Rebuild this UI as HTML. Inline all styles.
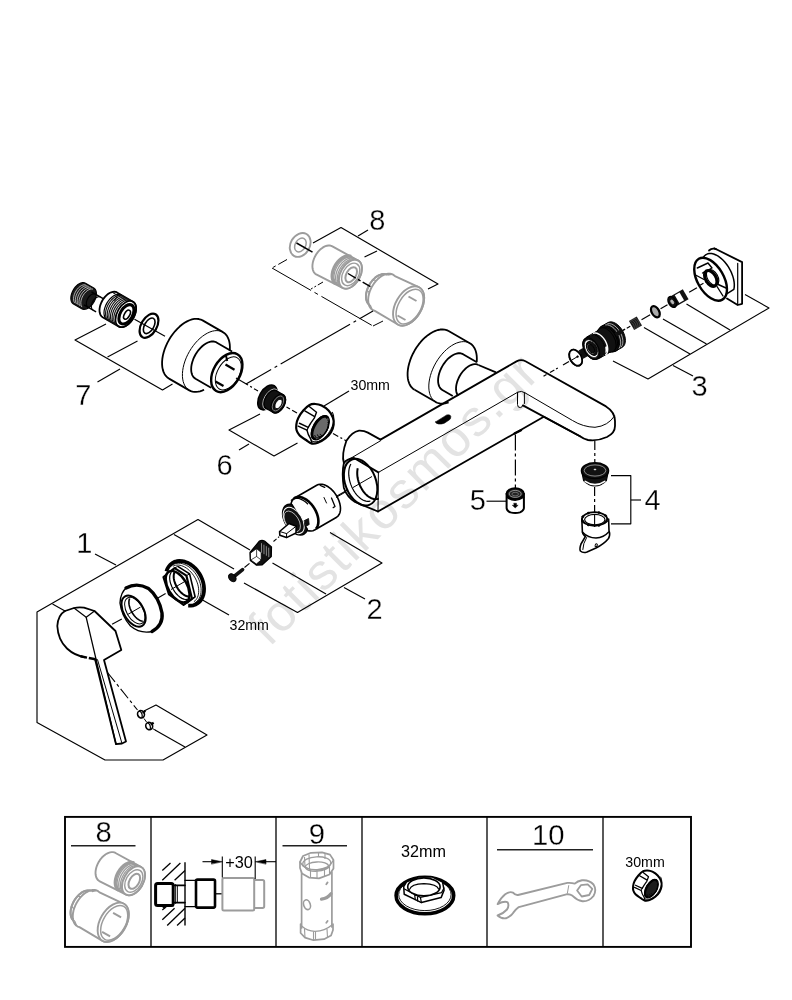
<!DOCTYPE html>
<html><head><meta charset="utf-8"><title>Exploded view</title>
<style>
html,body{margin:0;padding:0;background:#fff;}
body{width:792px;height:1000px;overflow:hidden;font-family:"Liberation Sans",sans-serif;}
svg{display:block;}
svg text{font-family:"Liberation Sans",sans-serif;}
</style></head><body>
<svg width="792" height="1000" viewBox="0 0 792 1000" style="filter:grayscale(1)">
<rect width="792" height="1000" fill="#fff"/>
<g id="wm">
<text x="0" y="0" font-size="51" fill="#e3e3e3" text-anchor="start" transform="translate(269.4,647.6) rotate(-45)" letter-spacing="2">fotistikosmos.gr</text>
</g>
<g id="table">
<rect x="65" y="816.9" width="626" height="130" fill="none" stroke="#000" stroke-width="1.9"/>
<line x1="151" y1="817" x2="151" y2="947" stroke="#000" stroke-width="1.3" stroke-linecap="butt"/>
<line x1="276" y1="817" x2="276" y2="947" stroke="#000" stroke-width="1.3" stroke-linecap="butt"/>
<line x1="362" y1="817" x2="362" y2="947" stroke="#000" stroke-width="1.3" stroke-linecap="butt"/>
<line x1="487" y1="817" x2="487" y2="947" stroke="#000" stroke-width="1.3" stroke-linecap="butt"/>
<line x1="603" y1="817" x2="603" y2="947" stroke="#000" stroke-width="1.3" stroke-linecap="butt"/>
<text x="103.7" y="841.7" font-size="29.3" fill="#000" text-anchor="middle" stroke="#fff" stroke-width="0.3">8</text>
<line x1="71" y1="845.8" x2="135.5" y2="845.8" stroke="#222" stroke-width="1.4" stroke-linecap="butt"/>
<text x="317" y="844" font-size="29.3" fill="#000" text-anchor="middle" stroke="#fff" stroke-width="0.3">9</text>
<line x1="282.5" y1="845.8" x2="347" y2="845.8" stroke="#222" stroke-width="1.4" stroke-linecap="butt"/>
<text x="548.3" y="844.7" font-size="29.3" fill="#000" text-anchor="middle" stroke="#fff" stroke-width="0.3">10</text>
<line x1="497" y1="849.7" x2="593" y2="849.7" stroke="#222" stroke-width="1.4" stroke-linecap="butt"/>
<text x="423.5" y="856.6" font-size="16.2" fill="#000" text-anchor="middle" >32mm</text>
<text x="645" y="867" font-size="14.2" fill="#000" text-anchor="middle" >30mm</text>
<text x="239" y="867.8" font-size="16.3" fill="#000" text-anchor="middle" >+30</text>
</g>
<g id="labels">
<text x="75.2" y="405" font-size="29" fill="#000" text-anchor="start" stroke="#fff" stroke-width="0.3">7</text>
<text x="216.6" y="475.2" font-size="29" fill="#000" text-anchor="start" stroke="#fff" stroke-width="0.3">6</text>
<text x="369.3" y="230.2" font-size="29" fill="#000" text-anchor="start" stroke="#fff" stroke-width="0.3">8</text>
<text x="691.5" y="395.5" font-size="29" fill="#000" text-anchor="start" stroke="#fff" stroke-width="0.3">3</text>
<text x="644.5" y="510.2" font-size="29" fill="#000" text-anchor="start" stroke="#fff" stroke-width="0.3">4</text>
<text x="469.8" y="510.4" font-size="29" fill="#000" text-anchor="start" stroke="#fff" stroke-width="0.3">5</text>
<text x="366.6" y="619.2" font-size="29" fill="#000" text-anchor="start" stroke="#fff" stroke-width="0.3">2</text>
<text x="76.3" y="553.2" font-size="29" fill="#000" text-anchor="start" stroke="#fff" stroke-width="0.3">1</text>
<text x="350.5" y="390" font-size="14.2" fill="#000" text-anchor="start" >30mm</text>
<text x="229.5" y="629.9" font-size="14.2" fill="#000" text-anchor="start" >32mm</text>
</g>
<g id="brackets">
<polyline points="106,324 75,340 162.5,390 172.5,384" fill="none" stroke="#000" stroke-width="1.15" stroke-linejoin="round"/>
<line x1="137.5" y1="341" x2="107.5" y2="357" stroke="#000" stroke-width="1.15" stroke-linecap="butt"/>
<line x1="120" y1="369" x2="97.5" y2="382" stroke="#000" stroke-width="1.15" stroke-linecap="butt"/>
<polyline points="260,414 229,430 274,456 297.5,443" fill="none" stroke="#000" stroke-width="1.15" stroke-linejoin="round"/>
<line x1="249" y1="444" x2="239" y2="450" stroke="#000" stroke-width="1.15" stroke-linecap="butt"/>
<polyline points="313,243 341,227.5 438,284 428,289" fill="none" stroke="#000" stroke-width="1.15" stroke-linejoin="round"/>
<line x1="377" y1="251" x2="364.5" y2="257" stroke="#000" stroke-width="1.15" stroke-linecap="butt"/>
<line x1="358" y1="236" x2="368" y2="230" stroke="#000" stroke-width="1.15" stroke-linecap="butt"/>
<polyline points="613,361 648,379 769,308 745,294.5" fill="none" stroke="#000" stroke-width="1.15" stroke-linejoin="round"/>
<line x1="644" y1="327.5" x2="690" y2="354" stroke="#000" stroke-width="1.15" stroke-linecap="butt"/>
<line x1="663" y1="319" x2="706.5" y2="344" stroke="#000" stroke-width="1.15" stroke-linecap="butt"/>
<line x1="686.5" y1="304" x2="730" y2="330" stroke="#000" stroke-width="1.15" stroke-linecap="butt"/>
<line x1="673" y1="365.5" x2="693" y2="376" stroke="#000" stroke-width="1.15" stroke-linecap="butt"/>
<polyline points="611,475.6 630.8,475.6 630.8,523.8 611,523.8" fill="none" stroke="#000" stroke-width="1.15" stroke-linejoin="round"/>
<line x1="630.8" y1="500" x2="641" y2="500" stroke="#000" stroke-width="1.15" stroke-linecap="butt"/>
<line x1="486.5" y1="501.2" x2="506" y2="501.2" stroke="#000" stroke-width="1.15" stroke-linecap="butt"/>
<polyline points="330,532.5 382,563 297.5,612.5 244,583" fill="none" stroke="#000" stroke-width="1.15" stroke-linejoin="round"/>
<line x1="272.5" y1="563" x2="326" y2="594" stroke="#000" stroke-width="1.15" stroke-linecap="butt"/>
<line x1="344" y1="587.5" x2="365" y2="599" stroke="#000" stroke-width="1.15" stroke-linecap="butt"/>
<polyline points="250,550 198,519.5 37,612 37,722.5 105,760 163,760 207,735 156,705 144,711" fill="none" stroke="#000" stroke-width="1.15" stroke-linejoin="round"/>
<line x1="174" y1="534.5" x2="234" y2="569" stroke="#000" stroke-width="1.15" stroke-linecap="butt"/>
<line x1="52.5" y1="604" x2="65" y2="611" stroke="#000" stroke-width="1.15" stroke-linecap="butt"/>
<line x1="155" y1="730" x2="185" y2="747" stroke="#000" stroke-width="1.15" stroke-linecap="butt"/>
<line x1="95" y1="554" x2="116" y2="565" stroke="#000" stroke-width="1.15" stroke-linecap="butt"/>
<line x1="202.5" y1="600" x2="229" y2="615" stroke="#000" stroke-width="1.15" stroke-linecap="butt"/>
<line x1="349" y1="391" x2="324" y2="406" stroke="#000" stroke-width="1.15" stroke-linecap="butt"/>
</g>
<g id="body">
<polyline points="476.67,362.25 476.83,360.07 476.84,357.96 476.72,355.94 476.47,354.01 476.07,352.19 475.55,350.49 474.89,348.91 474.11,347.46 473.21,346.17 472.19,345.02 471.06,344.03 469.82,343.21 448.6,330.96 446.73,330.09 444.7,329.56 442.52,329.37 440.22,329.51 437.83,330.0 435.37,330.81 432.87,331.95 430.35,333.41 427.85,335.16 425.39,337.18 422.99,339.46 420.7,341.97 418.52,344.68 416.48,347.57 414.61,350.59 412.93,353.72 411.45,356.93 410.19,360.17 409.16,363.42 408.39,366.63 407.86,369.77 407.6,372.81 407.6,375.72 407.86,378.46 408.38,381.0 409.16,383.31 410.18,385.37 411.44,387.16 412.92,388.66 414.6,389.84" fill="none" stroke="#000" stroke-width="1.8" stroke-linejoin="round"/>
<polyline points="414.6,389.84 435.82,402.09 437.17,402.76 438.6,403.24 440.12,403.55 441.72,403.68 443.37,403.63 445.09,403.4 446.85,402.98 448.64,402.4" fill="none" stroke="#000" stroke-width="1.8" stroke-linejoin="round"/>
<polyline points="435.82,402.09 434.14,400.91 432.66,399.41 431.4,397.62 430.38,395.56 429.6,393.25 429.08,390.71 428.82,387.97 428.82,385.06 429.08,382.02 429.61,378.88 430.38,375.67 431.41,372.42 432.67,369.18 434.15,365.97 435.83,362.84 437.7,359.82 439.74,356.93 441.92,354.22 444.21,351.71 446.61,349.43 449.07,347.41 451.57,345.66 454.09,344.2 456.59,343.06 459.05,342.25 461.44,341.76 463.74,341.62 465.92,341.81 467.95,342.34 469.82,343.21" fill="none" stroke="#000" stroke-width="1.0" stroke-linejoin="round"/>
<polyline points="476.91,362.17 463.05,354.17 461.61,353.55 460.02,353.24 458.3,353.25 456.49,353.59 454.61,354.24 452.7,355.2 450.79,356.45 448.92,357.96 447.1,359.72 445.39,361.69 443.8,363.84 442.36,366.13 441.09,368.52 440.03,370.97 439.18,373.44 438.57,375.89 438.19,378.28 438.07,380.55 438.19,382.69 438.56,384.64 439.18,386.38 440.03,387.87 441.09,389.09 442.35,390.03 452.74,396.03" fill="none" stroke="#000" stroke-width="1.8" stroke-linejoin="round"/>
<polyline points="478.46,364.99 477.26,364.46 475.94,364.17 474.51,364.14 473.01,364.36 471.45,364.83 469.85,365.54 468.25,366.48 466.66,367.64 465.1,369.01 463.61,370.55 462.2,372.25 460.89,374.08 459.7,376.02 458.66,378.03 457.78,380.09 457.06,382.16 456.52,384.22 456.17,386.23 456.02,388.16 456.06,389.99 456.3,391.69 456.73,393.23 457.34,394.58 458.13,395.74" fill="none" stroke="#000" stroke-width="1.8" stroke-linejoin="round"/>
<polyline points="478.46,364.99 496,372.4" fill="none" stroke="#000" stroke-width="1.8" stroke-linejoin="round"/>
<path d="M380.5,439.6 L516.5,361.4 Q521,358.8 525.5,361.2 L606,406.4 Q615,412 615,421 L615,426 Q615,433 607,437 Q597,441.5 588,440 Q583.5,439 580,436.3 L543.8,416.7 L378,511.5" fill="none" stroke="#000" stroke-width="1.8" stroke-linejoin="round" stroke-linecap="round" />
<path d="M580,436.3 L522.9,405.4" fill="none" stroke="#000" stroke-width="1.8" stroke-linejoin="round" stroke-linecap="round" />
<path d="M524.8,392.7 L572.5,420.5 Q583,427 595,427.3 Q608,426 614.5,416" fill="none" stroke="#000" stroke-width="1.0" stroke-linejoin="round" stroke-linecap="round" />
<path d="M517.9,392.1 Q521.5,390.2 524.8,392.7 M517.5,392.7 L517.5,404.5 Q517.6,408 520.5,407.6 Q522.6,407 522.9,405.4 M524.4,393.4 L524.4,403.5" fill="none" stroke="#000" stroke-width="1.0" stroke-linejoin="round" stroke-linecap="round" />
<path d="M378.4,472.4 L517.9,392.1" fill="none" stroke="#000" stroke-width="1.0" stroke-linejoin="round" stroke-linecap="round" />
<path d="M378.4,472.4 L378,511.5" fill="none" stroke="#000" stroke-width="1.0" stroke-linejoin="round" stroke-linecap="round" />
<path d="M378.4,472.4 L354,458 Q346.5,459 343.9,463 Q341.5,473 343.9,488 Q347,497 355,502 L378,511.5" fill="none" stroke="#000" stroke-width="1.8" stroke-linejoin="round" stroke-linecap="round" />
<path d="M343.9,463 Q341.3,455 346.4,440.8 Q352,432 359,430.7 Q364,430.5 367.9,432.6 L380.5,439.6" fill="none" stroke="#000" stroke-width="1.8" stroke-linejoin="round" stroke-linecap="round" />
<path d="M349,459.3 L380.5,440.8" fill="none" stroke="#000" stroke-width="1.0" stroke-linejoin="round" stroke-linecap="round" />
<ellipse cx="360.6" cy="482.2" rx="15.3" ry="24.3" fill="none" stroke="#000" stroke-width="2.0" transform="rotate(-21 360.6 482.2)"/>
<polyline points="370.39,501.0 368.99,501.3 367.51,501.35 365.98,501.14 364.41,500.67 362.83,499.95 361.24,499.0 359.68,497.81 358.16,496.41 356.7,494.81 355.31,493.04 354.02,491.11 352.85,489.05 351.8,486.89 350.88,484.64 350.12,482.35 349.52,480.03 349.08,477.71 348.81,475.44 348.72,473.22 348.81,471.09 349.07,469.08 349.51,467.22 350.11,465.51 350.87,463.99" fill="none" stroke="#000" stroke-width="1.2" stroke-linejoin="round"/>
<polyline points="378.75,498.47 377.55,498.9 376.28,499.12 374.96,499.14 373.6,498.96 372.21,498.57 370.81,497.99 369.41,497.22 368.02,496.26 366.67,495.13 365.36,493.84 364.11,492.4 362.93,490.82 361.84,489.13 360.84,487.34 359.94,485.47 359.16,483.53 358.5,481.56 357.98,479.56 357.58,477.56 357.33,475.58 357.22,473.65 357.25,471.77 357.42,469.97 357.73,468.27" fill="none" stroke="#000" stroke-width="2.0" stroke-linejoin="round"/>
<path d="M435.6,421.9 L446.8,414.9 Q450.6,414.2 450.8,416.4 Q451,418.6 449.5,419.8 L444.3,423.2 Q441,424.4 438.6,424 Q435.4,423.4 435.6,421.9 Z" fill="#000" stroke="#000" stroke-width="0.6" stroke-linejoin="round" stroke-linecap="round" />
<path d="M514.5,433.5 L521,430.2" fill="none" stroke="#000" stroke-width="2.4" stroke-linejoin="round" stroke-linecap="round" />
</g>
<g id="p7">
<polyline points="229.72,350.97 229.88,348.82 229.89,346.74 229.77,344.74 229.52,342.83 229.13,341.03 228.61,339.35 227.96,337.79 227.19,336.36 226.3,335.08 225.29,333.94 224.17,332.97 222.95,332.15 202.6,320.4 200.75,319.55 198.74,319.02 196.59,318.83 194.32,318.97 191.95,319.45 189.52,320.26 187.05,321.39 184.56,322.83 182.09,324.55 179.66,326.56 177.29,328.81 175.02,331.29 172.87,333.97 170.86,336.82 169.01,339.81 167.35,342.9 165.88,346.07 164.64,349.27 163.63,352.48 162.86,355.65 162.34,358.76 162.08,361.77 162.08,364.64 162.34,367.34 162.86,369.85 163.62,372.14 164.63,374.18 165.88,375.95 167.34,377.43 169.0,378.6 189.35,390.35 190.88,391.08 192.52,391.59 194.27,391.87 196.11,391.91 198.02,391.72 200.0,391.3 202.02,390.65 204.07,389.77" fill="none" stroke="#000" stroke-width="1.8" stroke-linejoin="round"/>
<polyline points="189.35,390.35 187.69,389.18 186.23,387.7 184.98,385.93 183.97,383.89 183.21,381.6 182.69,379.09 182.43,376.39 182.43,373.52 182.69,370.51 183.21,367.4 183.98,364.23 184.99,361.02 186.23,357.82 187.7,354.65 189.36,351.56 191.21,348.57 193.22,345.72 195.37,343.04 197.64,340.56 200.01,338.31 202.44,336.3 204.91,334.58 207.4,333.14 209.87,332.01 212.3,331.2 214.67,330.72 216.94,330.58 219.09,330.77 221.1,331.3 222.95,332.15" fill="none" stroke="#000" stroke-width="1.0" stroke-linejoin="round"/>
<polyline points="232.09,351.41 216.5,342.41 215.04,341.78 213.43,341.47 211.68,341.48 209.85,341.82 207.94,342.48 206.0,343.46 204.07,344.72 202.16,346.26 200.32,348.04 198.58,350.04 196.97,352.22 195.51,354.54 194.23,356.97 193.15,359.45 192.29,361.96 191.66,364.45 191.28,366.86 191.16,369.18 191.28,371.34 191.66,373.32 192.28,375.08 193.14,376.6 194.22,377.84 195.5,378.79 211.09,387.79" fill="none" stroke="#000" stroke-width="1.8" stroke-linejoin="round"/>
<ellipse cx="226.78" cy="372.6" rx="13.3" ry="21.2" fill="none" stroke="#000" stroke-width="2.4" transform="rotate(30 226.78 372.6)"/>
<ellipse cx="228.28" cy="373.40000000000003" rx="10.8" ry="18" fill="none" stroke="#000" stroke-width="1.0" transform="rotate(30 228.28 373.40000000000003)"/>
<line x1="225.5" y1="364.5" x2="234.5" y2="369.8" stroke="#000" stroke-width="2.2" stroke-linecap="butt"/>
<line x1="215.5" y1="381.5" x2="223.5" y2="386" stroke="#000" stroke-width="2.2" stroke-linecap="butt"/>
<line x1="226" y1="355.6" x2="227.2" y2="361" stroke="#000" stroke-width="2.0" stroke-linecap="butt"/>
<ellipse cx="149" cy="325.7" rx="7.8" ry="13.2" fill="none" stroke="#000" stroke-width="2.2" transform="rotate(30 149 325.7)"/>
<ellipse cx="149.2" cy="325.8" rx="4.6" ry="8.6" fill="none" stroke="#000" stroke-width="1.6" transform="rotate(30 149.2 325.8)"/>
<polygon points="85.5,283.21 84.45,282.77 83.28,282.6 82.02,282.71 80.69,283.08 79.33,283.71 77.98,284.58 76.67,285.67 75.42,286.96 74.28,288.42 73.26,290.0 72.4,291.67 71.72,293.39 71.22,295.11 70.93,296.8 70.85,298.4 70.98,299.89 71.32,301.23 71.87,302.37 72.6,303.3 73.5,303.99 81.73,308.74 81.73,308.74 82.78,309.18 83.95,309.35 85.21,309.24 86.54,308.87 87.89,308.24 89.25,307.37 90.56,306.28 91.8,304.99 92.95,303.53 93.96,301.95 94.82,300.28 95.51,298.56 96.01,296.84 96.3,295.15 96.38,293.55 96.25,292.06 95.9,290.72 95.36,289.58 94.63,288.65 93.73,287.96" fill="#1a1a1a" stroke="#000" stroke-width="1.2" stroke-linejoin="round"/>
<polyline points="85.66,284.88 84.34,284.76 82.91,285.01 81.41,285.61 79.92,286.56 78.47,287.81 77.13,289.31 75.95,291.01 74.97,292.84 74.22,294.74 73.74,296.64 73.54,298.47 73.63,300.15 74.0,301.63 74.65,302.85" fill="none" stroke="#ddd" stroke-width="0.75" stroke-linejoin="round"/>
<polyline points="87.48,285.93 86.16,285.81 84.73,286.06 83.23,286.66 81.74,287.61 80.29,288.86 78.95,290.36 77.77,292.06 76.79,293.89 76.04,295.79 75.56,297.69 75.36,299.52 75.45,301.2 75.82,302.68 76.47,303.9" fill="none" stroke="#ddd" stroke-width="0.75" stroke-linejoin="round"/>
<polyline points="89.3,286.98 87.98,286.86 86.55,287.11 85.05,287.71 83.56,288.66 82.11,289.91 80.77,291.41 79.59,293.11 78.61,294.94 77.86,296.84 77.38,298.74 77.18,300.57 77.27,302.25 77.64,303.73 78.29,304.95" fill="none" stroke="#ddd" stroke-width="0.75" stroke-linejoin="round"/>
<polyline points="91.11,288.03 89.79,287.91 88.36,288.16 86.86,288.76 85.37,289.71 83.92,290.96 82.58,292.46 81.4,294.16 80.42,295.99 79.67,297.89 79.19,299.79 78.99,301.62 79.08,303.3 79.45,304.78 80.1,306.0" fill="none" stroke="#ddd" stroke-width="0.75" stroke-linejoin="round"/>
<polyline points="92.93,289.08 91.61,288.96 90.18,289.21 88.68,289.81 87.19,290.76 85.74,292.01 84.4,293.51 83.22,295.21 82.24,297.04 81.49,298.94 81.01,300.84 80.81,302.67 80.9,304.35 81.27,305.83 81.92,307.05" fill="none" stroke="#ddd" stroke-width="0.75" stroke-linejoin="round"/>
<polyline points="91.48,291.86 105.34,299.86" fill="none" stroke="#000" stroke-width="1.4" stroke-linejoin="round"/>
<polyline points="83.98,304.85 96.1,311.85" fill="none" stroke="#000" stroke-width="1.4" stroke-linejoin="round"/>
<polyline points="95.48,294.15 94.52,293.82 93.42,293.82 92.23,294.17 91.02,294.84 89.85,295.8 88.77,297.01 87.83,298.4 87.1,299.9 86.59,301.44 86.35,302.94 86.37,304.33 86.66,305.53 87.21,306.48 87.98,307.15" fill="none" stroke="#000" stroke-width="1.2" stroke-linejoin="round"/>
<polyline points="100.48,297.05 99.52,296.72 98.42,296.72 97.23,297.07 96.02,297.74 94.85,298.7 93.77,299.91 92.83,301.3 92.1,302.8 91.59,304.34 91.35,305.84 91.37,307.23 91.66,308.43 92.21,309.38 92.98,310.05" fill="none" stroke="#000" stroke-width="1.2" stroke-linejoin="round"/>
<polygon points="116.95,292.42 115.7,291.9 114.3,291.7 112.8,291.82 111.22,292.26 109.6,293.01 107.99,294.05 106.43,295.36 104.94,296.89 103.58,298.63 102.37,300.51 101.34,302.5 100.52,304.55 99.93,306.6 99.59,308.61 99.49,310.52 99.65,312.3 100.06,313.89 100.7,315.25 101.58,316.36 102.65,317.18 118.67,326.43 119.92,326.95 121.32,327.15 122.82,327.03 124.4,326.59 126.02,325.84 127.63,324.8 129.19,323.49 130.68,321.96 132.04,320.22 133.25,318.34 134.28,316.35 135.1,314.3 135.69,312.25 136.03,310.24 136.13,308.33 135.97,306.55 135.56,304.96 134.92,303.6 134.04,302.49 132.97,301.67" fill="#fff" stroke="#000" stroke-width="1.8" stroke-linejoin="round"/>
<polyline points="121.45,295.02 119.86,294.42 118.06,294.32 116.12,294.72 114.1,295.61 112.09,296.95 110.17,298.7 108.41,300.78 106.87,303.11 105.62,305.61 104.7,308.18 104.15,310.71 103.99,313.12 104.23,315.31 104.85,317.2 105.84,318.71 107.15,319.78" fill="none" stroke="#000" stroke-width="1.2" stroke-linejoin="round"/>
<polyline points="122.34,295.59 120.71,295.22 118.92,295.31 117.02,295.86 115.08,296.85 113.16,298.25 111.34,300.01 109.68,302.06 108.24,304.34 107.08,306.75 106.22,309.22 105.7,311.65 105.55,313.97 105.76,316.09 106.33,317.93 107.24,319.42 108.46,320.53" fill="none" stroke="#111" stroke-width="1.15" stroke-linejoin="round"/>
<polyline points="123.99,296.54 122.36,296.17 120.57,296.26 118.67,296.81 116.73,297.8 114.81,299.2 112.99,300.96 111.33,303.01 109.89,305.29 108.73,307.7 107.87,310.17 107.35,312.6 107.2,314.92 107.41,317.04 107.98,318.88 108.89,320.37 110.11,321.48" fill="none" stroke="#111" stroke-width="1.15" stroke-linejoin="round"/>
<polyline points="125.63,297.49 124.0,297.12 122.21,297.21 120.31,297.76 118.37,298.75 116.45,300.15 114.63,301.91 112.97,303.96 111.53,306.24 110.37,308.65 109.51,311.12 108.99,313.55 108.84,315.87 109.05,317.99 109.62,319.83 110.53,321.32 111.75,322.43" fill="none" stroke="#111" stroke-width="1.15" stroke-linejoin="round"/>
<polyline points="127.28,298.44 125.65,298.07 123.86,298.16 121.96,298.71 120.02,299.7 118.1,301.1 116.28,302.86 114.62,304.91 113.18,307.19 112.02,309.6 111.16,312.07 110.64,314.5 110.49,316.82 110.7,318.94 111.27,320.78 112.18,322.27 113.4,323.38" fill="none" stroke="#111" stroke-width="1.15" stroke-linejoin="round"/>
<polyline points="128.92,299.39 127.29,299.02 125.5,299.11 123.6,299.66 121.66,300.65 119.74,302.05 117.92,303.81 116.26,305.86 114.82,308.14 113.66,310.55 112.8,313.02 112.28,315.45 112.13,317.77 112.34,319.89 112.91,321.73 113.82,323.22 115.04,324.33" fill="none" stroke="#111" stroke-width="1.15" stroke-linejoin="round"/>
<polyline points="130.57,300.34 128.94,299.97 127.15,300.06 125.25,300.61 123.31,301.6 121.39,303.0 119.57,304.76 117.91,306.81 116.47,309.09 115.31,311.5 114.45,313.97 113.93,316.4 113.78,318.72 113.99,320.84 114.56,322.68 115.47,324.17 116.69,325.28" fill="none" stroke="#111" stroke-width="1.15" stroke-linejoin="round"/>
<polyline points="112.5,292.5 117.5,295.3 114.5,300.8" fill="none" stroke="#000" stroke-width="1.0" stroke-linejoin="round"/>
<ellipse cx="125.82" cy="314.05" rx="8.58" ry="14.3" fill="none" stroke="#000" stroke-width="1.6" transform="rotate(30 125.82 314.05)"/>
<ellipse cx="126.41999999999999" cy="314.35" rx="6.2" ry="10.6" fill="none" stroke="#000" stroke-width="3.0" transform="rotate(30 126.41999999999999 314.35)"/>
<ellipse cx="127.02" cy="314.65000000000003" rx="2.6" ry="5.0" fill="none" stroke="#000" stroke-width="1.6" transform="rotate(30 127.02 314.65000000000003)"/>
</g>
<g id="p6">
<ellipse cx="267.4" cy="397.4" rx="8.0" ry="13.6" fill="#111" stroke="#000" stroke-width="1.5" transform="rotate(30 267.4 397.4)"/>
<ellipse cx="270.86" cy="399.4" rx="6.6" ry="11.5" fill="#111" stroke="#ccc" stroke-width="0.8" transform="rotate(30 270.86 399.4)"/>
<polygon points="276.5,390.87 275.37,390.44 274.08,390.37 272.7,390.66 271.26,391.29 269.83,392.25 268.46,393.49 267.2,394.98 266.1,396.64 265.21,398.42 264.55,400.25 264.16,402.06 264.05,403.78 264.21,405.34 264.66,406.69 265.36,407.77 266.3,408.53 273.13,412.48 274.26,412.91 275.55,412.98 276.93,412.69 278.37,412.06 279.8,411.1 281.17,409.86 282.43,408.37 283.53,406.71 284.42,404.93 285.08,403.1 285.47,401.29 285.58,399.57 285.42,398.01 284.97,396.66 284.27,395.58 283.33,394.82" fill="#111" stroke="#000" stroke-width="1.2" stroke-linejoin="round"/>
<ellipse cx="278.23" cy="403.65" rx="6.119999999999999" ry="10.2" fill="#111" stroke="#000" stroke-width="1.4" transform="rotate(30 278.23 403.65)"/>
<ellipse cx="277.93" cy="403.45" rx="4.6" ry="8.2" fill="#111" stroke="#999" stroke-width="0.7" transform="rotate(30 277.93 403.45)"/>
<ellipse cx="278.53000000000003" cy="403.95" rx="2.9" ry="5.2" fill="#fff" stroke="#000" stroke-width="0.8" transform="rotate(30 278.53000000000003 403.95)"/>
<path d="M296.33,424.56 C296.59,422.55 297.00,420.48 298.16,418.14 C299.32,415.80 301.37,412.75 303.27,410.54 C305.17,408.34 307.55,406.00 309.56,404.91 C311.57,403.82 313.31,403.88 315.32,403.99 C317.33,404.10 319.41,404.47 321.61,405.56 C323.81,406.65 326.67,408.53 328.55,410.54 C330.43,412.55 332.03,415.27 332.88,417.61 C333.73,419.95 333.97,422.14 333.66,424.56 C333.35,426.98 332.42,429.84 331.04,432.15 C329.67,434.46 327.62,436.67 325.41,438.44 C323.21,440.21 320.04,441.91 317.81,442.76 C315.58,443.61 313.95,443.96 312.05,443.55 C310.15,443.14 308.51,441.68 306.41,440.28 C304.31,438.88 301.11,436.85 299.47,435.17 C297.83,433.49 297.11,431.96 296.59,430.19 C296.07,428.42 296.07,426.57 296.33,424.56 Z" fill="#fff" stroke="#000" stroke-width="2.2" stroke-linejoin="round" stroke-linecap="round" />
<path d="M309.56,406.74 L316.5,412.24 L314.27,418.14 Q310.48,423.12 308.25,427.44 L299.47,423.25" fill="none" stroke="#000" stroke-width="1.4306903927824497" stroke-linejoin="round" stroke-linecap="round" />
<path d="M304.84,410.93 L314.27,416.3" fill="none" stroke="#000" stroke-width="1.4306903927824497" stroke-linejoin="round" stroke-linecap="round" />
<path d="M298.16,426.13 L306.94,430.19 Q307.86,434.9 310.74,438.97 L312.05,443.55" fill="none" stroke="#000" stroke-width="1.4306903927824497" stroke-linejoin="round" stroke-linecap="round" />
<path d="M308.25,427.44 L306.94,430.19" fill="none" stroke="#000" stroke-width="1.1445523142259597" stroke-linejoin="round" stroke-linecap="round" />
<polyline points="332.04,412.05 332.9,413.59 333.48,415.4 333.77,417.45 333.77,419.7 333.47,422.08 332.88,424.54 332.02,427.02 330.91,429.48 329.56,431.84 328.02,434.06 326.32,436.08 324.5,437.85 322.59,439.34 320.65,440.52 318.73,441.34 316.85,441.8 315.08,441.88 313.44,441.58 311.99,440.91 310.74,439.88" fill="none" stroke="#000" stroke-width="1.0300970828033638" stroke-linejoin="round"/>
<ellipse cx="320.3" cy="427.7" rx="7.074000000000001" ry="13.362" fill="#6a6a6a" stroke="#000" stroke-width="1.2" transform="rotate(30 320.3 427.7)"/>
<polyline points="315.84,438.79 314.61,438.78 313.58,438.35 312.79,437.53 312.26,436.35 312.02,434.84 312.08,433.06 312.43,431.08 313.05,428.98 313.94,426.82 315.05,424.69 316.34,422.66 317.77,420.82 319.28,419.22 320.82,417.93 322.33,416.99 323.75,416.45 325.04,416.31 326.15,416.58 327.03,417.26 327.65,418.32" fill="none" stroke="#000" stroke-width="2.62" stroke-linejoin="round"/>
<polyline points="327.69,419.65 328.45,421.22 328.63,423.39 328.23,425.97 327.26,428.76 325.83,431.51 324.04,434.0 322.04,436.01 320.01,437.38 318.11,437.99 316.51,437.79 315.34,436.8 314.69,435.1" fill="none" stroke="#000" stroke-width="0.9825" stroke-linejoin="round"/>
<polyline points="327.79,421.99 328.36,423.23 328.48,424.96 328.13,427.02 327.34,429.26 326.18,431.47 324.75,433.48 323.16,435.11 321.55,436.23 320.06,436.74 318.81,436.6 317.9,435.83 317.42,434.48" fill="none" stroke="#000" stroke-width="0.9825" stroke-linejoin="round"/>
<polyline points="327.89,424.33 328.28,425.24 328.32,426.53 328.03,428.08 327.41,429.76 326.53,431.43 325.46,432.96 324.28,434.21 323.09,435.08 322.01,435.49 321.11,435.41 320.47,434.85 320.15,433.86" fill="none" stroke="#000" stroke-width="0.9825" stroke-linejoin="round"/>
</g>
<g id="p8">
<ellipse cx="300.2" cy="244.9" rx="9.6" ry="12.6" fill="none" stroke="#9c9c9c" stroke-width="1.9" transform="rotate(30 300.2 244.9)"/>
<ellipse cx="300.4" cy="245.0" rx="5.2" ry="7.4" fill="none" stroke="#9c9c9c" stroke-width="1.5" transform="rotate(30 300.4 245.0)"/>
<g transform="translate(0,0)">
<polygon points="332.4,246.37 331.2,245.83 329.87,245.55 328.45,245.52 326.97,245.74 325.43,246.21 323.88,246.93 322.33,247.88 320.82,249.04 319.36,250.39 317.99,251.92 316.73,253.59 315.6,255.38 314.62,257.25 313.8,259.18 313.16,261.13 312.72,263.07 312.47,264.96 312.42,266.77 312.58,268.47 312.94,270.04 313.49,271.44 314.22,272.65 315.13,273.65 316.2,274.43 342.55,287.8 343.72,288.32 345.0,288.59 346.37,288.62 347.82,288.41 349.3,287.95 350.81,287.26 352.31,286.34 353.78,285.21 355.18,283.9 356.51,282.42 357.73,280.8 358.83,279.07 359.78,277.25 360.57,275.38 361.19,273.49 361.63,271.62 361.87,269.78 361.91,268.03 361.76,266.38 361.41,264.86 360.88,263.5 360.16,262.33 359.28,261.35 358.25,260.6" fill="#fff" stroke="#9c9c9c" stroke-width="1.9" stroke-linejoin="round"/>
<polyline points="357.95,260.44 356.53,259.93 354.97,259.76 353.3,259.92 351.56,260.43 349.79,261.25 348.04,262.39 346.34,263.8 344.74,265.45 343.27,267.31 341.97,269.33 340.87,271.47 339.99,273.67 339.36,275.89 338.99,278.06 338.88,280.14 339.05,282.09 339.49,283.85 340.18,285.38 341.11,286.64 342.26,287.62" fill="none" stroke="#9c9c9c" stroke-width="1.9" stroke-linejoin="round"/>
<polyline points="356.3,259.49 354.88,258.98 353.32,258.81 351.65,258.97 349.91,259.48 348.14,260.3 346.39,261.44 344.69,262.85 343.09,264.5 341.62,266.36 340.32,268.38 339.22,270.52 338.34,272.72 337.71,274.94 337.34,277.11 337.23,279.19 337.4,281.14 337.84,282.9 338.53,284.43 339.46,285.69 340.61,286.67" fill="none" stroke="#9c9c9c" stroke-width="1.3" stroke-linejoin="round"/>
<polyline points="354.66,258.54 353.24,258.03 351.68,257.86 350.01,258.02 348.27,258.53 346.5,259.35 344.75,260.49 343.05,261.9 341.45,263.55 339.98,265.41 338.68,267.43 337.58,269.57 336.7,271.77 336.07,273.99 335.7,276.16 335.59,278.24 335.76,280.19 336.2,281.95 336.89,283.48 337.82,284.74 338.97,285.72" fill="none" stroke="#9c9c9c" stroke-width="1.3" stroke-linejoin="round"/>
<polyline points="353.01,257.59 351.59,257.08 350.03,256.91 348.36,257.07 346.62,257.58 344.85,258.4 343.1,259.54 341.4,260.95 339.8,262.6 338.33,264.46 337.03,266.48 335.93,268.62 335.05,270.82 334.42,273.04 334.05,275.21 333.94,277.29 334.11,279.24 334.55,281.0 335.24,282.53 336.17,283.79 337.32,284.77" fill="none" stroke="#9c9c9c" stroke-width="1.3" stroke-linejoin="round"/>
<polyline points="351.2,256.54 349.78,256.03 348.22,255.86 346.55,256.02 344.81,256.53 343.04,257.35 341.29,258.49 339.59,259.9 337.99,261.55 336.52,263.41 335.22,265.43 334.12,267.57 333.24,269.77 332.61,271.99 332.24,274.16 332.13,276.24 332.3,278.19 332.74,279.95 333.43,281.48 334.36,282.74 335.51,283.72" fill="none" stroke="#9c9c9c" stroke-width="3.2" stroke-linejoin="round"/>
<ellipse cx="350.4" cy="274.2" rx="9.734" ry="15.7" fill="#fff" stroke="#9c9c9c" stroke-width="1.9" transform="rotate(30 350.4 274.2)"/>
<ellipse cx="350.7" cy="274.4" rx="7.8" ry="12.2" fill="none" stroke="#9c9c9c" stroke-width="1.4" transform="rotate(30 350.7 274.4)"/>
<ellipse cx="351.2" cy="274.7" rx="4.8" ry="8.2" fill="none" stroke="#9c9c9c" stroke-width="2.0" transform="rotate(30 351.2 274.7)"/>
</g>
<g transform="translate(0,0)">
<polyline points="387.3,274.93 386.03,274.37 384.62,274.07 383.12,274.05 381.54,274.3 379.91,274.81 378.25,275.59 376.6,276.62 374.99,277.87 373.44,279.33 371.97,280.97 370.62,282.77 369.41,284.69 368.35,286.71 367.47,288.77 366.78,290.86 366.29,292.94 366.01,294.96 365.95,296.9 366.1,298.72 366.47,300.4 367.04,301.89 367.82,303.18 368.77,304.25 369.9,305.07" fill="none" stroke="#9c9c9c" stroke-width="1.9" stroke-linejoin="round"/>
<polygon points="394.92,276.08 393.51,274.92 391.88,274.13 390.06,273.72 388.1,273.71 386.02,274.1 383.89,274.87 381.73,276.01 379.6,277.49 377.54,279.29 375.6,281.37 373.82,283.68 372.22,286.18 370.86,288.8 369.75,291.51 368.92,294.23 368.39,296.91 368.17,299.5 368.26,301.93 368.66,304.17 369.37,306.16 370.36,307.85 371.62,309.23 373.12,310.24 374.83,310.88 397.9,324.53 399.47,325.23 401.19,325.59 403.04,325.62 404.99,325.31 406.99,324.68 409.03,323.72 411.06,322.46 413.04,320.92 414.95,319.12 416.75,317.1 418.41,314.89 419.91,312.53 421.21,310.05 422.29,307.51 423.14,304.94 423.74,302.39 424.08,299.9 424.16,297.51 423.97,295.27 423.52,293.21 422.81,291.38 421.86,289.79 420.68,288.48 419.3,287.47" fill="#fff" stroke="#9c9c9c" stroke-width="1.9" stroke-linejoin="round"/>
<polyline points="387.3,274.93 386.03,274.37 384.62,274.07 383.12,274.05 381.54,274.3 379.91,274.81 378.25,275.59 376.6,276.62 374.99,277.87 373.44,279.33 371.97,280.97 370.62,282.77 369.41,284.69 368.35,286.71 367.47,288.77 366.78,290.86 366.29,292.94 366.01,294.96 365.95,296.9 366.1,298.72 366.47,300.4 367.04,301.89 367.82,303.18 368.77,304.25 369.9,305.07" fill="none" stroke="#9c9c9c" stroke-width="1.9" stroke-linejoin="round"/>
<polyline points="387.3,274.93 391.88,274.13" fill="none" stroke="#9c9c9c" stroke-width="1.9" stroke-linejoin="round"/>
<polyline points="369.9,305.07 371.62,309.23" fill="none" stroke="#9c9c9c" stroke-width="1.9" stroke-linejoin="round"/>
<polyline points="379.36,275.05 383.89,274.87" fill="none" stroke="#9c9c9c" stroke-width="1.2" stroke-linejoin="round"/>
<polyline points="372.94,279.86 376.36,280.51" fill="none" stroke="#9c9c9c" stroke-width="1.2" stroke-linejoin="round"/>
<polyline points="366.99,290.17 369.38,292.6" fill="none" stroke="#9c9c9c" stroke-width="1.2" stroke-linejoin="round"/>
<polyline points="366.2,299.3 368.46,303.3" fill="none" stroke="#9c9c9c" stroke-width="1.2" stroke-linejoin="round"/>
<ellipse cx="408.6" cy="306.0" rx="13.053999999999998" ry="21.4" fill="#fff" stroke="#9c9c9c" stroke-width="1.9" transform="rotate(30 408.6 306.0)"/>
<ellipse cx="409.6" cy="306.6" rx="11.2" ry="19.0" fill="none" stroke="#9c9c9c" stroke-width="1.5" transform="rotate(30 409.6 306.6)"/>
<line x1="408.5" y1="296.5" x2="416.5" y2="301" stroke="#9c9c9c" stroke-width="2.0" stroke-linecap="butt"/>
<line x1="397.5" y1="315.5" x2="405.5" y2="320" stroke="#9c9c9c" stroke-width="2.0" stroke-linecap="butt"/>
</g>
<line x1="287" y1="259.5" x2="272" y2="268" stroke="#000" stroke-width="1.0" stroke-linecap="butt" stroke-dasharray="10 3 3 3"/>
<line x1="272" y1="268" x2="373" y2="326" stroke="#000" stroke-width="1.0" stroke-linecap="butt" stroke-dasharray="45 4 4 4 58 4 4 4"/>
<line x1="373" y1="326" x2="383" y2="321" stroke="#000" stroke-width="1.0" stroke-linecap="butt"/>
<line x1="323" y1="282" x2="311" y2="289" stroke="#000" stroke-width="1.0" stroke-linecap="butt" stroke-dasharray="6 2 2 2"/>
<line x1="296.5" y1="243" x2="312.5" y2="252.2" stroke="#000" stroke-width="1.5" stroke-linecap="butt"/>
<line x1="348" y1="273.5" x2="372" y2="287.5" stroke="#000" stroke-width="1.4" stroke-linecap="butt" stroke-dasharray="9 2.5 3 2.5"/>
</g>
<g id="p3">
<line x1="563" y1="365" x2="569" y2="361.5" stroke="#000" stroke-width="1.2" stroke-linecap="butt"/>
<line x1="550" y1="372.5" x2="559" y2="367.3" stroke="#000" stroke-width="1.2" stroke-linecap="butt" stroke-dasharray="5 2 2 2"/>
<line x1="543.5" y1="376.2" x2="546.5" y2="374.5" stroke="#000" stroke-width="1.2" stroke-linecap="butt"/>
<line x1="580.9" y1="354.7" x2="592.15" y2="348.2" stroke="#111" stroke-width="9.5" stroke-linecap="butt"/>
<ellipse cx="575.7" cy="357.7" rx="5.6" ry="8.6" fill="#fff" stroke="#000" stroke-width="1.8" transform="rotate(-30 575.7 357.7)"/>
<line x1="571.5" y1="360.2" x2="577.5" y2="356.6" stroke="#000" stroke-width="1.0" stroke-linecap="butt"/>
<ellipse cx="577.6" cy="356.6" rx="0.9" ry="0.9" fill="#000" stroke="#000" stroke-width="0.6"/>
<polygon points="607.95,322.57 609.54,321.97 611.34,321.87 613.28,322.27 615.3,323.16 617.31,324.5 619.23,326.25 620.99,328.33 622.53,330.66 623.78,333.16 624.7,335.73 625.25,338.26 625.41,340.67 625.17,342.86 624.55,344.75 623.56,346.26 622.25,347.33 615.76,351.08 614.17,351.68 612.37,351.78 610.43,351.38 608.41,350.49 606.4,349.15 604.48,347.4 602.72,345.32 601.18,342.99 599.93,340.49 599.01,337.92 598.46,335.39 598.3,332.98 598.54,330.79 599.16,328.9 600.15,327.39 601.46,326.32" fill="#111" stroke="#000" stroke-width="1.0" stroke-linejoin="round"/>
<ellipse cx="608.61" cy="338.7" rx="8.58" ry="14.3" fill="#111" stroke="#000" stroke-width="1.0" transform="rotate(-30 608.61 338.7)"/>
<polyline points="605.22,324.96 607.27,324.84 609.52,325.39 611.83,326.6 614.08,328.39 616.16,330.67 617.94,333.31 619.34,336.18 620.27,339.11 620.7,341.96 620.59,344.56 619.95,346.78 618.81,348.5" fill="none" stroke="#e8e8e8" stroke-width="0.7" stroke-linejoin="round"/>
<polyline points="607.39,323.71 609.44,323.59 611.69,324.14 614.0,325.35 616.25,327.14 618.33,329.42 620.11,332.06 621.51,334.93 622.44,337.86 622.87,340.71 622.76,343.31 622.12,345.53 620.98,347.25" fill="none" stroke="#e8e8e8" stroke-width="0.7" stroke-linejoin="round"/>
<polygon points="602.41,327.96 603.79,327.44 605.35,327.36 607.03,327.7 608.78,328.48 610.52,329.64 612.19,331.15 613.72,332.96 615.05,334.98 616.14,337.15 616.94,339.37 617.41,341.57 617.55,343.66 617.34,345.56 616.8,347.2 615.95,348.51 614.81,349.44 599.22,358.44 597.84,358.96 596.28,359.04 594.6,358.7 592.85,357.92 591.11,356.76 589.44,355.25 587.91,353.44 586.58,351.42 585.49,349.25 584.69,347.03 584.22,344.83 584.08,342.74 584.29,340.84 584.83,339.2 585.68,337.89 586.82,336.96" fill="#111" stroke="#000" stroke-width="1.0" stroke-linejoin="round"/>
<ellipse cx="606.44" cy="339.95" rx="8.04" ry="13.4" fill="#111" stroke="#000" stroke-width="1.0" transform="rotate(-30 606.44 339.95)"/>
<polyline points="592.94,333.25 594.85,332.9 596.98,333.26 599.22,334.29 601.42,335.94 603.46,338.11 605.2,340.67 606.54,343.46 607.4,346.3 607.73,349.04 607.51,351.49 606.75,353.52 605.5,354.99" fill="none" stroke="#fff" stroke-width="1.4" stroke-linejoin="round"/>
<polyline points="590.19,335.53 592.0,335.2 594.03,335.54 596.16,336.52 598.26,338.1 600.2,340.17 601.86,342.6 603.13,345.25 603.96,347.96 604.27,350.57 604.06,352.9 603.33,354.83 602.14,356.24" fill="none" stroke="#fff" stroke-width="1.0" stroke-linejoin="round"/>
<polygon points="604.31,347.7 607.31,346.2 607.31,351.2 604.81,352.7" fill="#fff" stroke="#fff" stroke-width="0.5" stroke-linejoin="round"/>
<polygon points="590.58,335.48 591.89,334.99 593.38,334.9 594.98,335.24 596.64,335.97 598.3,337.08 599.89,338.52 601.34,340.23 602.61,342.16 603.64,344.22 604.4,346.34 604.86,348.43 604.99,350.42 604.79,352.23 604.28,353.79 603.46,355.03 602.38,355.92 597.19,358.92 595.88,359.41 594.39,359.5 592.79,359.16 591.13,358.43 589.47,357.32 587.88,355.88 586.43,354.17 585.16,352.24 584.13,350.18 583.37,348.06 582.91,345.97 582.78,343.98 582.98,342.17 583.49,340.61 584.31,339.37 585.39,338.48" fill="#111" stroke="#000" stroke-width="1.0" stroke-linejoin="round"/>
<ellipse cx="591.29" cy="348.7" rx="7.08" ry="11.8" fill="#111" stroke="#000" stroke-width="1.0" transform="rotate(-30 591.29 348.7)"/>
<ellipse cx="591.29" cy="348.7" rx="5.88" ry="9.8" fill="#fff" stroke="#000" stroke-width="0.6" transform="rotate(-30 591.29 348.7)"/>
<ellipse cx="591.81" cy="348.4" rx="4.56" ry="7.6" fill="#111" stroke="#000" stroke-width="1.0" transform="rotate(-30 591.81 348.4)"/>
<ellipse cx="590.86" cy="348.95" rx="3.12" ry="5.2" fill="#fff" stroke="#000" stroke-width="0.5" transform="rotate(-30 590.86 348.95)"/>
<ellipse cx="591.29" cy="348.7" rx="2.64" ry="4.4" fill="#111" stroke="#000" stroke-width="1.0" transform="rotate(-30 591.29 348.7)"/>
<ellipse cx="575.7" cy="357.7" rx="5.6" ry="8.6" fill="#fff" stroke="#000" stroke-width="1.8" transform="rotate(-30 575.7 357.7)"/>
<line x1="571.5" y1="360.2" x2="577.5" y2="356.6" stroke="#000" stroke-width="1.0" stroke-linecap="butt"/>
<ellipse cx="577.6" cy="356.6" rx="0.9" ry="0.9" fill="#000" stroke="#000" stroke-width="0.6"/>
<line x1="615.54" y1="334.7" x2="622.47" y2="330.7" stroke="#111" stroke-width="4.2" stroke-linecap="butt"/>
<line x1="622.47" y1="330.7" x2="625.06" y2="329.2" stroke="#000" stroke-width="1.4" stroke-linecap="butt"/>
<line x1="631.56" y1="325.45" x2="639.35" y2="320.95" stroke="#1a1a1a" stroke-width="10.5" stroke-linecap="butt"/>
<polyline points="629.06,321.21 630.09,321.3 631.25,321.92 632.39,323.0 633.38,324.4 634.1,325.96 634.46,327.49 634.42,328.8 633.98,329.74" fill="none" stroke="#666" stroke-width="0.5" stroke-linejoin="round"/>
<polyline points="630.79,320.21 631.82,320.3 632.98,320.92 634.12,322.0 635.11,323.4 635.83,324.96 636.19,326.49 636.15,327.8 635.71,328.74" fill="none" stroke="#666" stroke-width="0.5" stroke-linejoin="round"/>
<polyline points="632.52,319.21 633.55,319.3 634.71,319.92 635.85,321.0 636.84,322.4 637.56,323.96 637.92,325.49 637.88,326.8 637.44,327.74" fill="none" stroke="#666" stroke-width="0.5" stroke-linejoin="round"/>
<polyline points="634.25,318.21 635.28,318.3 636.44,318.92 637.58,320.0 638.57,321.4 639.29,322.96 639.65,324.49 639.61,325.8 639.17,326.74" fill="none" stroke="#666" stroke-width="0.5" stroke-linejoin="round"/>
<line x1="626.8" y1="328.2" x2="630.26" y2="326.2" stroke="#000" stroke-width="1.2" stroke-linecap="butt"/>
<ellipse cx="655.37" cy="311.7" rx="3.7" ry="6.1" fill="#aaa" stroke="#000" stroke-width="2.2" transform="rotate(-30 655.37 311.7)"/>
<line x1="641.52" y1="319.7" x2="650.18" y2="314.7" stroke="#000" stroke-width="1.2" stroke-linecap="butt"/>
<line x1="660.57" y1="308.7" x2="667.5" y2="304.7" stroke="#000" stroke-width="1.2" stroke-linecap="butt"/>
<line x1="672.26" y1="301.95" x2="685.69" y2="294.2" stroke="#111" stroke-width="11.5" stroke-linecap="butt"/>
<line x1="677.02" y1="299.2" x2="681.79" y2="296.45" stroke="#fff" stroke-width="9.0" stroke-linecap="butt"/>
<ellipse cx="672.26" cy="301.95" rx="3.6" ry="5.8" fill="#111" stroke="#000" stroke-width="1.6" transform="rotate(-30 672.26 301.95)"/>
<ellipse cx="672.26" cy="301.95" rx="1.2" ry="2.2" fill="#bbb" stroke="#bbb" stroke-width="0.8" transform="rotate(-30 672.26 301.95)"/>
<line x1="689.15" y1="292.2" x2="696.94" y2="287.7" stroke="#000" stroke-width="1.2" stroke-linecap="butt"/>
<path d="M714.3,248.3 L742.1,262.1 L742.1,303.8 L737.7,305 L727,298.5" fill="#fff" stroke="#000" stroke-width="1.8" stroke-linejoin="round" stroke-linecap="round" />
<path d="M737.7,263.4 L737.7,304.6" fill="none" stroke="#000" stroke-width="1.2" stroke-linejoin="round" stroke-linecap="round" />
<path d="M709,250.5 Q712,247.6 716,249.2" fill="none" stroke="#000" stroke-width="1.8" stroke-linejoin="round" stroke-linecap="round" />
<polyline points="706.21,280.78 704.75,277.88 703.54,274.91 702.61,271.95 701.97,269.05 701.64,266.26 701.62,263.63 701.91,261.22 702.51,259.08 703.41,257.23 704.59,255.73 706.02,254.6 707.67,253.85 709.53,253.51 711.55,253.58 713.69,254.06 715.91,254.94 718.17,256.2 720.43,257.82 722.64,259.76 724.76,262.0 726.75,264.49 728.57,267.18 730.19,270.01 731.57,272.94 732.7,275.91 733.54,278.86 734.08,281.74 734.32,284.48 734.24,287.04 733.85,289.38 726.34,294.17" fill="#fff" stroke="#000" stroke-width="1.5" stroke-linejoin="round"/>
<ellipse cx="710.6" cy="279.2" rx="13.1" ry="23.6" fill="#fff" stroke="#000" stroke-width="2.4" transform="rotate(-30 710.6 279.2)"/>
<path d="M697.3,268 L708,263 L712,268 L702.5,273" fill="none" stroke="#000" stroke-width="1.4" stroke-linejoin="round" stroke-linecap="round" />
<path d="M696.5,275.5 L704,279.5" fill="none" stroke="#000" stroke-width="1.4" stroke-linejoin="round" stroke-linecap="round" />
<path d="M716,283.5 L726,288 M717,286.5 L723,296" fill="none" stroke="#000" stroke-width="1.4" stroke-linejoin="round" stroke-linecap="round" />
<ellipse cx="710.8" cy="278.4" rx="5.2" ry="8.6" fill="#fff" stroke="#000" stroke-width="3.2" transform="rotate(-30 710.8 278.4)"/>
<ellipse cx="712.6" cy="277.4" rx="5.2" ry="8.6" fill="none" stroke="#000" stroke-width="1.2" transform="rotate(-30 712.6 277.4)"/>
<line x1="700" y1="285.3" x2="708" y2="280.7" stroke="#000" stroke-width="1.2" stroke-linecap="butt" stroke-dasharray="4 2"/>
</g>
<g id="p4">
<path d="M581.6,471 L583.6,480.5 Q589,486 595,486 Q601,486 606.4,480.5 L608.4,471 Z" fill="#111" stroke="#000" stroke-width="1.2" stroke-linejoin="round" stroke-linecap="round" />
<path d="M585.2,481.3 Q590,484.6 595,484.6 Q600,484.6 604.8,481.3" fill="none" stroke="#fff" stroke-width="1.6" stroke-linejoin="round" stroke-linecap="round" />
<ellipse cx="595" cy="470.7" rx="13.6" ry="7.9" fill="#111" stroke="#000" stroke-width="1.4"/>
<ellipse cx="595" cy="470.5" rx="10.8" ry="5.6" fill="none" stroke="#ddd" stroke-width="0.6"/>
<ellipse cx="595" cy="469.5" rx="0.9" ry="0.6" fill="#fff" stroke="#fff" stroke-width="0.5"/>
<ellipse cx="594.6" cy="519" rx="12.6" ry="6.8" fill="#fff" stroke="#000" stroke-width="1.8"/>
<ellipse cx="594.8" cy="519.6" rx="10.2" ry="5.2" fill="none" stroke="#000" stroke-width="1.2"/>
<path d="M581.8,519 L582.4,532 Q583.2,535.4 585.6,536.2 L581,544 Q579.2,549 580.4,551 Q583,553.5 587,552 L596,548 Q604,544 608.5,538.5 Q610.5,535 609,530.5 L608.6,519" fill="none" stroke="#000" stroke-width="1.6" stroke-linejoin="round" stroke-linecap="round" />
<path d="M582.4,532 Q588,538 596,538 Q604,537.5 608.6,532" fill="none" stroke="#000" stroke-width="1.3" stroke-linejoin="round" stroke-linecap="round" />
<path d="M586.6,537.5 Q583,543.5 582.8,549.5" fill="none" stroke="#000" stroke-width="1.0" stroke-linejoin="round" stroke-linecap="round" />
<ellipse cx="596.2" cy="545.3" rx="1.0" ry="1.6" fill="none" stroke="#000" stroke-width="1.0" transform="rotate(25 596.2 545.3)"/>
<ellipse cx="582.8" cy="516.7" rx="1.1" ry="0.9" fill="#000" stroke="#000" stroke-width="0.8"/>
<ellipse cx="588.3" cy="513.1" rx="1.1" ry="0.9" fill="#000" stroke="#000" stroke-width="0.8"/>
<ellipse cx="598.9" cy="512.6" rx="1.1" ry="0.9" fill="#000" stroke="#000" stroke-width="0.8"/>
<ellipse cx="605.5" cy="515.6" rx="1.1" ry="0.9" fill="#000" stroke="#000" stroke-width="0.8"/>
<ellipse cx="606.4" cy="521.3" rx="1.1" ry="0.9" fill="#000" stroke="#000" stroke-width="0.8"/>
<ellipse cx="598.9" cy="525.4" rx="1.1" ry="0.9" fill="#000" stroke="#000" stroke-width="0.8"/>
<ellipse cx="588.3" cy="524.9" rx="1.1" ry="0.9" fill="#000" stroke="#000" stroke-width="0.8"/>
<ellipse cx="582.8" cy="521.3" rx="1.1" ry="0.9" fill="#000" stroke="#000" stroke-width="0.8"/>
</g>
<g id="p5">
<path d="M506.6,493.7 L506.6,508 Q507,511 510.5,512.4 Q515.2,513.8 520,512.4 Q523.6,511 523.9,508 L523.9,493.7 Z" fill="#fff" stroke="#000" stroke-width="2.0" stroke-linejoin="round" stroke-linecap="round" />
<ellipse cx="515.2" cy="493.7" rx="8.6" ry="5.4" fill="#222" stroke="#000" stroke-width="2.0"/>
<ellipse cx="515.2" cy="493.9" rx="6.0" ry="3.5" fill="none" stroke="#bbb" stroke-width="0.7"/>
<ellipse cx="515.2" cy="494.1" rx="3.3" ry="1.8" fill="none" stroke="#999" stroke-width="0.6"/>
<path d="M506.8,497.2 Q515,503 523.8,497.2" fill="none" stroke="#000" stroke-width="1.6" stroke-linejoin="round" stroke-linecap="round" />
<path d="M513.9,503.2 L516.5,503.2 L516.5,505.2 L518.2,505.2 L515.2,508 L512.2,505.2 L513.9,505.2 Z" fill="#000" stroke="#000" stroke-width="0.4" stroke-linejoin="round" stroke-linecap="round" />
</g>
<g id="p2">
<polygon points="316.72,485.31 318.34,484.57 320.16,484.24 322.15,484.33 324.24,484.84 326.4,485.75 328.56,487.04 330.68,488.69 332.7,490.64 334.57,492.85 336.25,495.27 337.69,497.84 338.86,500.49 339.73,503.16 340.27,505.79 340.49,508.3 340.36,510.63 339.9,512.74 339.11,514.57 338.02,516.06 336.64,517.19 314.56,529.94 312.94,530.68 311.12,531.01 309.13,530.92 307.04,530.41 304.88,529.5 302.72,528.21 300.6,526.56 298.58,524.61 296.71,522.4 295.03,519.98 293.59,517.41 292.42,514.76 291.55,512.09 291.01,509.46 290.79,506.95 290.92,504.62 291.38,502.51 292.17,500.68 293.26,499.19 294.64,498.06" fill="#fff" stroke="#000" stroke-width="1.6" stroke-linejoin="round"/>
<polyline points="293.84,498.64 295.28,497.7 296.94,497.14 298.78,496.97 300.76,497.2 302.82,497.82 304.92,498.82 307.02,500.17 309.06,501.84 311.0,503.8 312.78,505.99 314.38,508.37 315.75,510.88 316.86,513.46 317.69,516.06 318.21,518.61 318.41,521.05 318.29,523.32 317.85,525.38 317.11,527.18 316.07,528.66" fill="none" stroke="#000" stroke-width="2.6" stroke-linejoin="round"/>
<polyline points="290.93,500.64 291.9,499.73 293.01,499.04 294.25,498.56 295.6,498.31 297.04,498.29 298.56,498.5 300.12,498.94 301.72,499.6 303.32,500.47 304.92,501.54 306.48,502.8 307.98,504.23" fill="none" stroke="#000" stroke-width="1.2" stroke-linejoin="round"/>
<path d="M320.3,485.5 L324.7,487.4 M331.5,498 L335,506.5 L333.2,507.6" fill="none" stroke="#000" stroke-width="1.3" stroke-linejoin="round" stroke-linecap="round" />
<path d="M324,497.5 L326.5,503" fill="none" stroke="#000" stroke-width="1.0" stroke-linejoin="round" stroke-linecap="round" />
<polygon points="307.45,529.3 306.71,531.24 305.62,532.83 304.21,534.02 302.53,534.76 300.62,535.05 298.55,534.87 296.38,534.22 294.17,533.13 291.99,531.63 289.91,529.76 288.0,527.58 286.3,525.16 284.87,522.58 283.75,519.9 282.98,517.21 282.59,514.6 282.58,512.13 282.95,509.9 283.69,507.96 284.78,506.37 286.19,505.18 287.87,504.44 289.78,504.15 291.85,504.33" fill="#111" stroke="#000" stroke-width="1.4" stroke-linejoin="round"/>
<ellipse cx="293.7" cy="520.5" rx="8.5" ry="14.5" fill="#111" stroke="#fff" stroke-width="1.0" transform="rotate(-32 293.7 520.5)"/>
<ellipse cx="292.2" cy="521.4" rx="6.5" ry="11.5" fill="#111" stroke="#ccc" stroke-width="0.8" transform="rotate(-32 292.2 521.4)"/>
<path d="M304.5,520.5 L308.5,518.5 L309.2,524.5 L305.5,526.5 Z" fill="#111" stroke="#000" stroke-width="0.8" stroke-linejoin="round" stroke-linecap="round" />
<path d="M279.6,531.5 L289,523.5 L296.2,526.2 L296,533 L286.5,537.6 L279.8,535.2 Z" fill="#fff" stroke="#000" stroke-width="1.6" stroke-linejoin="round" stroke-linecap="round" />
<path d="M279.6,531.5 L286.6,533.6 L296.2,526.2 M286.6,533.6 L286.5,537.6" fill="none" stroke="#000" stroke-width="1.0" stroke-linejoin="round" stroke-linecap="round" />
<line x1="337" y1="496" x2="347.5" y2="490" stroke="#000" stroke-width="1.1" stroke-linecap="butt"/>
<path d="M250,552.5 L259.5,541 Q262,539.8 264.5,541 L271.5,547 L271.3,556.5 L262,565 L256.5,565.2 L250.3,560.5 Z" fill="#111" stroke="#000" stroke-width="1.2" stroke-linejoin="round" stroke-linecap="round" />
<path d="M250.6,553 L256.6,548.6 L261.2,552.4 L261.2,560 L256.4,564 L250.8,560 Z" fill="#fff" stroke="#000" stroke-width="0.8" stroke-linejoin="round" stroke-linecap="round" />
<path d="M256.6,548.6 L256.6,556.5 L250.8,560 M256.6,556.5 L261.2,560" fill="none" stroke="#000" stroke-width="0.7" stroke-linejoin="round" stroke-linecap="round" />
<line x1="261.5" y1="543.2" x2="261.6" y2="552.7" stroke="#ddd" stroke-width="0.6" stroke-linecap="butt"/>
<line x1="263.9" y1="544.7" x2="264.0" y2="554.2" stroke="#ddd" stroke-width="0.6" stroke-linecap="butt"/>
<line x1="266.3" y1="546.2" x2="266.40000000000003" y2="555.7" stroke="#ddd" stroke-width="0.6" stroke-linecap="butt"/>
<line x1="268.7" y1="547.7" x2="268.8" y2="557.2" stroke="#ddd" stroke-width="0.6" stroke-linecap="butt"/>
<line x1="234" y1="576.5" x2="242.6" y2="569.6" stroke="#111" stroke-width="3.6" stroke-linecap="round"/>
<ellipse cx="232.3" cy="577.7" rx="3.2" ry="4.4" fill="#111" stroke="#000" stroke-width="1.0" transform="rotate(-40 232.3 577.7)"/>
<line x1="273.5" y1="541.5" x2="280.5" y2="535.5" stroke="#000" stroke-width="1.1" stroke-linecap="butt" stroke-dasharray="4 2 1.5 2"/>
<line x1="244.5" y1="567.5" x2="249.5" y2="563.3" stroke="#000" stroke-width="1.1" stroke-linecap="butt"/>
</g>
<g id="p1">
<polyline points="166.36,571.43 167.33,568.88 168.65,566.61 170.29,564.67 172.22,563.11 174.41,561.94 176.8,561.21 179.35,560.91 182.01,561.07 184.72,561.66 187.44,562.69 190.1,564.13 192.66,565.95 195.06,568.11 197.25,570.58 199.2,573.31 200.86,576.23 202.2,579.3 203.19,582.44 203.82,585.6 204.07,588.72 203.93,591.72 203.41,594.56 202.52,597.18 201.27,599.51 199.7,601.53 197.83,603.18 195.7,604.43 193.35,605.27 190.83,605.66 188.19,605.61" fill="none" stroke="#000" stroke-width="3.8" stroke-linejoin="round"/>
<polyline points="170.88,566.26 172.2,565.16 173.66,564.3 175.25,563.68 176.95,563.31 178.73,563.19 180.58,563.33 182.48,563.72 184.39,564.36 186.3,565.24 188.18,566.35 190.01,567.68 191.77,569.21 193.42,570.92 194.96,572.79 196.36,574.79 197.61,576.9 198.69,579.1 199.59,581.36 200.29,583.65 200.79,585.93 201.08,588.19 201.15,590.4 201.01,592.52 200.67,594.53 200.11,596.4 199.35,598.12 198.4,599.65 197.27,600.99 195.98,602.11 194.53,603.01" fill="none" stroke="#000" stroke-width="0.9" stroke-linejoin="round"/>
<polyline points="172.9,566.26 174.15,565.66 175.51,565.26 176.94,565.07 178.44,565.07 179.99,565.28 181.58,565.69 183.18,566.3 184.79,567.1 186.38,568.08 187.93,569.24 189.43,570.55 190.87,572.01 192.22,573.6 193.48,575.3 194.62,577.09 195.65,578.96 196.54,580.88 197.29,582.84 197.88,584.81 198.32,586.78 198.6,588.72 198.71,590.6 198.66,592.42 198.44,594.15 198.06,595.77 197.52,597.26 196.82,598.62 195.98,599.81 195.0,600.84 193.9,601.7" fill="none" stroke="#000" stroke-width="0.9" stroke-linejoin="round"/>
<polygon points="174.6,568.1 186.4,575.7 191.9,598.6 183.6,604.9 169,594.4 163.5,577.1" fill="#fff" stroke="#000" stroke-width="2.2" stroke-linejoin="round"/>
<polyline points="177.79999999999998,566.3000000000001 189.6,573.9000000000001 195.1,596.8000000000001 186.79999999999998,603.1" fill="none" stroke="#000" stroke-width="1.6" stroke-linejoin="round"/>
<polyline points="174.6,568.1 177.79999999999998,566.3000000000001" fill="none" stroke="#000" stroke-width="1.0" stroke-linejoin="round"/>
<polyline points="186.4,575.7 189.6,573.9000000000001" fill="none" stroke="#000" stroke-width="1.0" stroke-linejoin="round"/>
<polyline points="191.9,598.6 195.1,596.8000000000001" fill="none" stroke="#000" stroke-width="1.0" stroke-linejoin="round"/>
<polyline points="183.6,604.9 186.79999999999998,603.1" fill="none" stroke="#000" stroke-width="1.0" stroke-linejoin="round"/>
<ellipse cx="177.6" cy="586.6" rx="9.4" ry="17.3" fill="#fff" stroke="#000" stroke-width="2.4" transform="rotate(-30 177.6 586.6)"/>
<polyline points="187.19,599.39 185.57,599.49 183.8,599.15 181.94,598.38 180.04,597.2 178.15,595.65 176.34,593.78 174.65,591.64 173.15,589.3 171.88,586.83 170.87,584.3 170.15,581.8 169.75,579.39 169.68,577.15 169.95,575.15 170.54,573.45 171.43,572.1" fill="none" stroke="#000" stroke-width="1.2" stroke-linejoin="round"/>
<polyline points="188.62,596.61 187.16,596.36 185.63,595.8 184.06,594.94 182.48,593.81 180.95,592.42 179.48,590.82 178.12,589.03 176.9,587.1 175.84,585.08 174.97,583.0 174.31,580.93 173.88,578.91 173.68,576.98 173.73,575.19 174.01,573.58 174.52,572.2" fill="none" stroke="#000" stroke-width="2.0" stroke-linejoin="round"/>
<line x1="171" y1="589.5" x2="185" y2="581.4" stroke="#000" stroke-width="1.0" stroke-linecap="butt"/>
<path d="M127,587.2 Q137,582 148.5,588.5 Q159,597 162,613 Q163.5,625 152,631.5 Q140,634 130.5,626 Q121.5,616 120,603 Q120.5,592 127,587.2 Z" fill="#fff" stroke="#000" stroke-width="1.4" stroke-linejoin="round" stroke-linecap="round" />
<path d="M126,588 Q137,582 148.5,588.5 Q159,597 162,613 Q163.5,625 152,631.5" fill="none" stroke="#000" stroke-width="3.4" stroke-linejoin="round" stroke-linecap="round" />
<ellipse cx="133.6" cy="611.1" rx="9.9" ry="17.1" fill="#fff" stroke="#000" stroke-width="2.0" transform="rotate(-30 133.6 611.1)"/>
<ellipse cx="134.8" cy="610.6" rx="8.2" ry="14.6" fill="none" stroke="#000" stroke-width="1.0" transform="rotate(-30 134.8 610.6)"/>
<polyline points="142.83,621.19 141.47,620.96 140.05,620.43 138.59,619.63 137.12,618.57 135.69,617.27 134.33,615.77 133.06,614.1 131.92,612.3 130.93,610.41 130.12,608.48 129.5,606.55 129.09,604.66 128.9,602.86 128.94,601.19 129.2,599.7 129.67,598.41" fill="none" stroke="#000" stroke-width="1.6" stroke-linejoin="round"/>
<line x1="128" y1="614.3" x2="140.5" y2="607.1" stroke="#000" stroke-width="1.0" stroke-linecap="butt"/>
<line x1="112.1" y1="624.3" x2="121.8" y2="619.0" stroke="#000" stroke-width="1.1" stroke-linecap="butt"/>
<line x1="157.9" y1="597.9" x2="165.6" y2="593.6" stroke="#000" stroke-width="1.1" stroke-linecap="butt"/>
<path d="M65,611 Q58,615 57.3,626 Q58,640 67,648.5 Q74.5,655.5 85,657.3" fill="none" stroke="#000" stroke-width="1.8" stroke-linejoin="round" stroke-linecap="round" />
<path d="M65,611 L74,608 Q78,607 84,607.6 L94.5,611 L115.5,631 L121.3,650 L104,660 L126,741.5 L122,743.5 L116,744.2 L95,659" fill="none" stroke="#000" stroke-width="1.8" stroke-linejoin="round" stroke-linecap="round" />
<path d="M86.2,617.3 L116,744.2" fill="none" stroke="#000" stroke-width="1.3" stroke-linejoin="round" stroke-linecap="round" />
<path d="M74,608 L86.2,617.3 L94.5,611" fill="none" stroke="#000" stroke-width="1.2" stroke-linejoin="round" stroke-linecap="round" />
<path d="M95,659 L97.5,659.6 L122,743.5" fill="none" stroke="#000" stroke-width="1.0" stroke-linejoin="round" stroke-linecap="round" />
<line x1="80.5" y1="656.3" x2="87" y2="657.6" stroke="#000" stroke-width="2.4" stroke-linecap="butt"/>
<line x1="88.8" y1="658" x2="95.5" y2="659.3" stroke="#000" stroke-width="2.4" stroke-linecap="butt"/>
<ellipse cx="141" cy="714.2" rx="3.4" ry="3.8" fill="#fff" stroke="#000" stroke-width="1.6" transform="rotate(-20 141 714.2)"/>
<path d="M139.5,711.0 Q143,713.2 142,717.4000000000001" fill="none" stroke="#000" stroke-width="1.2" stroke-linejoin="round" stroke-linecap="round" />
<line x1="142.5" y1="712.7" x2="145.5" y2="710.9000000000001" stroke="#000" stroke-width="2.2" stroke-linecap="butt"/>
<ellipse cx="149.2" cy="726" rx="3.4" ry="3.8" fill="#fff" stroke="#000" stroke-width="1.6" transform="rotate(-20 149.2 726)"/>
<path d="M147.7,722.8 Q151.2,725 150.2,729.2" fill="none" stroke="#000" stroke-width="1.2" stroke-linejoin="round" stroke-linecap="round" />
<line x1="150.7" y1="724.5" x2="153.7" y2="722.7" stroke="#000" stroke-width="2.2" stroke-linecap="butt"/>
<line x1="107.5" y1="672.5" x2="137.5" y2="710" stroke="#000" stroke-width="1.1" stroke-linecap="butt" stroke-dasharray="12 3 3 3"/>
<line x1="144" y1="718.5" x2="146.5" y2="722" stroke="#000" stroke-width="1.0" stroke-linecap="butt"/>
<line x1="153" y1="728.8" x2="156" y2="730.5" stroke="#000" stroke-width="1.0" stroke-linecap="butt"/>
</g>
<g id="tablecontents">
<g transform="translate(-216.9,606.6)">
<polygon points="332.4,246.37 331.2,245.83 329.87,245.55 328.45,245.52 326.97,245.74 325.43,246.21 323.88,246.93 322.33,247.88 320.82,249.04 319.36,250.39 317.99,251.92 316.73,253.59 315.6,255.38 314.62,257.25 313.8,259.18 313.16,261.13 312.72,263.07 312.47,264.96 312.42,266.77 312.58,268.47 312.94,270.04 313.49,271.44 314.22,272.65 315.13,273.65 316.2,274.43 342.55,287.8 343.72,288.32 345.0,288.59 346.37,288.62 347.82,288.41 349.3,287.95 350.81,287.26 352.31,286.34 353.78,285.21 355.18,283.9 356.51,282.42 357.73,280.8 358.83,279.07 359.78,277.25 360.57,275.38 361.19,273.49 361.63,271.62 361.87,269.78 361.91,268.03 361.76,266.38 361.41,264.86 360.88,263.5 360.16,262.33 359.28,261.35 358.25,260.6" fill="#fff" stroke="#9c9c9c" stroke-width="1.9" stroke-linejoin="round"/>
<polyline points="357.95,260.44 356.53,259.93 354.97,259.76 353.3,259.92 351.56,260.43 349.79,261.25 348.04,262.39 346.34,263.8 344.74,265.45 343.27,267.31 341.97,269.33 340.87,271.47 339.99,273.67 339.36,275.89 338.99,278.06 338.88,280.14 339.05,282.09 339.49,283.85 340.18,285.38 341.11,286.64 342.26,287.62" fill="none" stroke="#9c9c9c" stroke-width="1.9" stroke-linejoin="round"/>
<polyline points="356.3,259.49 354.88,258.98 353.32,258.81 351.65,258.97 349.91,259.48 348.14,260.3 346.39,261.44 344.69,262.85 343.09,264.5 341.62,266.36 340.32,268.38 339.22,270.52 338.34,272.72 337.71,274.94 337.34,277.11 337.23,279.19 337.4,281.14 337.84,282.9 338.53,284.43 339.46,285.69 340.61,286.67" fill="none" stroke="#9c9c9c" stroke-width="1.3" stroke-linejoin="round"/>
<polyline points="354.66,258.54 353.24,258.03 351.68,257.86 350.01,258.02 348.27,258.53 346.5,259.35 344.75,260.49 343.05,261.9 341.45,263.55 339.98,265.41 338.68,267.43 337.58,269.57 336.7,271.77 336.07,273.99 335.7,276.16 335.59,278.24 335.76,280.19 336.2,281.95 336.89,283.48 337.82,284.74 338.97,285.72" fill="none" stroke="#9c9c9c" stroke-width="1.3" stroke-linejoin="round"/>
<polyline points="353.01,257.59 351.59,257.08 350.03,256.91 348.36,257.07 346.62,257.58 344.85,258.4 343.1,259.54 341.4,260.95 339.8,262.6 338.33,264.46 337.03,266.48 335.93,268.62 335.05,270.82 334.42,273.04 334.05,275.21 333.94,277.29 334.11,279.24 334.55,281.0 335.24,282.53 336.17,283.79 337.32,284.77" fill="none" stroke="#9c9c9c" stroke-width="1.3" stroke-linejoin="round"/>
<polyline points="351.2,256.54 349.78,256.03 348.22,255.86 346.55,256.02 344.81,256.53 343.04,257.35 341.29,258.49 339.59,259.9 337.99,261.55 336.52,263.41 335.22,265.43 334.12,267.57 333.24,269.77 332.61,271.99 332.24,274.16 332.13,276.24 332.3,278.19 332.74,279.95 333.43,281.48 334.36,282.74 335.51,283.72" fill="none" stroke="#9c9c9c" stroke-width="3.2" stroke-linejoin="round"/>
<ellipse cx="350.4" cy="274.2" rx="9.734" ry="15.7" fill="#fff" stroke="#9c9c9c" stroke-width="1.9" transform="rotate(30 350.4 274.2)"/>
<ellipse cx="350.7" cy="274.4" rx="7.8" ry="12.2" fill="none" stroke="#9c9c9c" stroke-width="1.4" transform="rotate(30 350.7 274.4)"/>
<ellipse cx="351.2" cy="274.7" rx="4.8" ry="8.2" fill="none" stroke="#9c9c9c" stroke-width="2.0" transform="rotate(30 351.2 274.7)"/>
</g>
<g transform="translate(-295.4,616.3)">
<polyline points="387.3,274.93 386.03,274.37 384.62,274.07 383.12,274.05 381.54,274.3 379.91,274.81 378.25,275.59 376.6,276.62 374.99,277.87 373.44,279.33 371.97,280.97 370.62,282.77 369.41,284.69 368.35,286.71 367.47,288.77 366.78,290.86 366.29,292.94 366.01,294.96 365.95,296.9 366.1,298.72 366.47,300.4 367.04,301.89 367.82,303.18 368.77,304.25 369.9,305.07" fill="none" stroke="#9c9c9c" stroke-width="1.9" stroke-linejoin="round"/>
<polygon points="394.92,276.08 393.51,274.92 391.88,274.13 390.06,273.72 388.1,273.71 386.02,274.1 383.89,274.87 381.73,276.01 379.6,277.49 377.54,279.29 375.6,281.37 373.82,283.68 372.22,286.18 370.86,288.8 369.75,291.51 368.92,294.23 368.39,296.91 368.17,299.5 368.26,301.93 368.66,304.17 369.37,306.16 370.36,307.85 371.62,309.23 373.12,310.24 374.83,310.88 397.9,324.53 399.47,325.23 401.19,325.59 403.04,325.62 404.99,325.31 406.99,324.68 409.03,323.72 411.06,322.46 413.04,320.92 414.95,319.12 416.75,317.1 418.41,314.89 419.91,312.53 421.21,310.05 422.29,307.51 423.14,304.94 423.74,302.39 424.08,299.9 424.16,297.51 423.97,295.27 423.52,293.21 422.81,291.38 421.86,289.79 420.68,288.48 419.3,287.47" fill="#fff" stroke="#9c9c9c" stroke-width="1.9" stroke-linejoin="round"/>
<polyline points="387.3,274.93 386.03,274.37 384.62,274.07 383.12,274.05 381.54,274.3 379.91,274.81 378.25,275.59 376.6,276.62 374.99,277.87 373.44,279.33 371.97,280.97 370.62,282.77 369.41,284.69 368.35,286.71 367.47,288.77 366.78,290.86 366.29,292.94 366.01,294.96 365.95,296.9 366.1,298.72 366.47,300.4 367.04,301.89 367.82,303.18 368.77,304.25 369.9,305.07" fill="none" stroke="#9c9c9c" stroke-width="1.9" stroke-linejoin="round"/>
<polyline points="387.3,274.93 391.88,274.13" fill="none" stroke="#9c9c9c" stroke-width="1.9" stroke-linejoin="round"/>
<polyline points="369.9,305.07 371.62,309.23" fill="none" stroke="#9c9c9c" stroke-width="1.9" stroke-linejoin="round"/>
<polyline points="379.36,275.05 383.89,274.87" fill="none" stroke="#9c9c9c" stroke-width="1.2" stroke-linejoin="round"/>
<polyline points="372.94,279.86 376.36,280.51" fill="none" stroke="#9c9c9c" stroke-width="1.2" stroke-linejoin="round"/>
<polyline points="366.99,290.17 369.38,292.6" fill="none" stroke="#9c9c9c" stroke-width="1.2" stroke-linejoin="round"/>
<polyline points="366.2,299.3 368.46,303.3" fill="none" stroke="#9c9c9c" stroke-width="1.2" stroke-linejoin="round"/>
<ellipse cx="408.6" cy="306.0" rx="13.053999999999998" ry="21.4" fill="#fff" stroke="#9c9c9c" stroke-width="1.9" transform="rotate(30 408.6 306.0)"/>
<ellipse cx="409.6" cy="306.6" rx="11.2" ry="19.0" fill="none" stroke="#9c9c9c" stroke-width="1.5" transform="rotate(30 409.6 306.6)"/>
<line x1="408.5" y1="296.5" x2="416.5" y2="301" stroke="#9c9c9c" stroke-width="2.0" stroke-linecap="butt"/>
<line x1="397.5" y1="315.5" x2="405.5" y2="320" stroke="#9c9c9c" stroke-width="2.0" stroke-linecap="butt"/>
</g>
<line x1="185" y1="862.2" x2="185" y2="925.5" stroke="#000" stroke-width="1.4" stroke-linecap="butt"/>
<line x1="162.3" y1="870.5" x2="170.5" y2="863" stroke="#000" stroke-width="1.3" stroke-linecap="butt"/>
<line x1="162.3" y1="880.3" x2="180.4" y2="863" stroke="#000" stroke-width="1.3" stroke-linecap="butt"/>
<line x1="174.6" y1="880.3" x2="185" y2="870.5" stroke="#000" stroke-width="1.3" stroke-linecap="butt"/>
<line x1="185" y1="908.2" x2="167.2" y2="925.5" stroke="#000" stroke-width="1.3" stroke-linecap="butt"/>
<line x1="185" y1="918" x2="177.1" y2="925.5" stroke="#000" stroke-width="1.3" stroke-linecap="butt"/>
<line x1="174.6" y1="908.2" x2="162.3" y2="919.7" stroke="#000" stroke-width="1.3" stroke-linecap="butt"/>
<line x1="166.4" y1="906.6" x2="162.3" y2="909.9" stroke="#000" stroke-width="1.3" stroke-linecap="butt"/>
<rect x="155.6" y="883.4" width="17.6" height="22" rx="2" fill="#fff" stroke="#000" stroke-width="3"/>
<path d="M173.8,885.4 L185,885.4 M173.8,902.6 L185,902.6" fill="none" stroke="#000" stroke-width="1.6" stroke-linejoin="round" stroke-linecap="round" />
<path d="M175.6,884.5 L175.6,903.5 M177.4,886 L177.4,902" fill="none" stroke="#000" stroke-width="0.9" stroke-linejoin="round" stroke-linecap="round" />
<path d="M185,880.4 L195.2,880.4 M185,906.6 L195.2,906.6" fill="none" stroke="#000" stroke-width="1.2" stroke-linejoin="round" stroke-linecap="round" />
<path d="M173.2,905.8 L162,905.8 L164.5,908" fill="none" stroke="#000" stroke-width="1.6" stroke-linejoin="round" stroke-linecap="round" />
<rect x="196" y="879.6" width="19" height="28" rx="1.5" fill="#fff" stroke="#000" stroke-width="2.6"/>
<line x1="216" y1="893.8" x2="222.2" y2="893.8" stroke="#000" stroke-width="1.3" stroke-linecap="butt"/>
<rect x="222.4" y="878" width="31.8" height="32.4" rx="1.5" fill="#fff" stroke="#9c9c9c" stroke-width="2"/>
<path d="M254.3,880 L262.5,880 Q264.2,880 264.2,881.7 L264.2,906.3 Q264.2,908 262.5,908 L254.3,908" fill="none" stroke="#9c9c9c" stroke-width="2"/>
<line x1="222.3" y1="856.5" x2="222.3" y2="877.5" stroke="#000" stroke-width="1.1" stroke-linecap="butt"/>
<line x1="255.2" y1="856.5" x2="255.2" y2="879" stroke="#000" stroke-width="1.1" stroke-linecap="butt"/>
<line x1="202.5" y1="861.7" x2="213" y2="861.7" stroke="#000" stroke-width="1.1" stroke-linecap="butt"/>
<path d="M222.2,861.7 L211.5,859.6 L211.5,863.8 Z" fill="#000" stroke="#000" stroke-width="0.5" stroke-linejoin="round" stroke-linecap="round" />
<line x1="265" y1="861.7" x2="276" y2="861.7" stroke="#000" stroke-width="1.1" stroke-linecap="butt"/>
<path d="M255.3,861.7 L266,859.6 L266,863.8 Z" fill="#000" stroke="#000" stroke-width="0.5" stroke-linejoin="round" stroke-linecap="round" />
<path d="M301.6,868 L301.6,928 M331.9,872 L331.9,927" fill="none" stroke="#9c9c9c" stroke-width="1.7" stroke-linejoin="round" stroke-linecap="round" />
<path d="M300,862 L303,856 L311,852.8 L322,852.4 L330,854.6 L333.5,860 L333.5,868.5 L329.5,874.5 L319,878.4 L309,877.6 L302,873.4 L300,868 Z" fill="#fff" stroke="#9c9c9c" stroke-width="1.7" stroke-linejoin="round" stroke-linecap="round" />
<path d="M300,862 L303.5,866.5 L310.5,869.6 L320,870 L328.5,867.6 L333.5,860" fill="none" stroke="#9c9c9c" stroke-width="1.3" stroke-linejoin="round" stroke-linecap="round" />
<ellipse cx="316.8" cy="863.2" rx="14" ry="6.4" fill="none" stroke="#9c9c9c" stroke-width="1.3" transform="rotate(-3 316.8 863.2)"/>
<ellipse cx="316.9" cy="866.6" rx="11.6" ry="4.6" fill="none" stroke="#9c9c9c" stroke-width="1.3" transform="rotate(-3 316.9 866.6)"/>
<line x1="304.5" y1="857" x2="305" y2="866.8" stroke="#9c9c9c" stroke-width="1.1" stroke-linecap="butt"/>
<line x1="309" y1="854.5" x2="309.5" y2="868.8" stroke="#9c9c9c" stroke-width="1.1" stroke-linecap="butt"/>
<line x1="318.5" y1="853" x2="318.5" y2="857" stroke="#9c9c9c" stroke-width="1.1" stroke-linecap="butt"/>
<line x1="325" y1="854" x2="325" y2="859" stroke="#9c9c9c" stroke-width="1.1" stroke-linecap="butt"/>
<line x1="310.5" y1="869.6" x2="310.5" y2="877.6" stroke="#9c9c9c" stroke-width="1.1" stroke-linecap="butt"/>
<line x1="317" y1="870" x2="317" y2="878.2" stroke="#9c9c9c" stroke-width="1.1" stroke-linecap="butt"/>
<line x1="324.5" y1="869" x2="324.5" y2="876.6" stroke="#9c9c9c" stroke-width="1.1" stroke-linecap="butt"/>
<line x1="329.5" y1="867" x2="329.5" y2="874.5" stroke="#9c9c9c" stroke-width="1.1" stroke-linecap="butt"/>
<path d="M300.6,924 L300.6,933 L305,937.6 L313.5,940.2 L324,939.2 L331,935.6 L333,930 L333,924" fill="none" stroke="#9c9c9c" stroke-width="1.7" stroke-linejoin="round" stroke-linecap="round" />
<path d="M301.6,926 Q307,931 315,931.4 Q325,931 331.9,925" fill="none" stroke="#9c9c9c" stroke-width="1.3" stroke-linejoin="round" stroke-linecap="round" />
<line x1="313.5" y1="931.4" x2="313.5" y2="940.2" stroke="#9c9c9c" stroke-width="1.1" stroke-linecap="butt"/>
<line x1="315.5" y1="931.4" x2="315.5" y2="940" stroke="#9c9c9c" stroke-width="1.1" stroke-linecap="butt"/>
<line x1="327" y1="929" x2="327.5" y2="937.6" stroke="#9c9c9c" stroke-width="1.1" stroke-linecap="butt"/>
<line x1="304.5" y1="929" x2="305" y2="937.6" stroke="#9c9c9c" stroke-width="1.1" stroke-linecap="butt"/>
<ellipse cx="307" cy="904.7" rx="3.3" ry="5.0" fill="none" stroke="#9c9c9c" stroke-width="1.6" transform="rotate(-18 307 904.7)"/>
<path d="M321.5,899.2 Q327.5,898.5 331,893.8" fill="none" stroke="#9c9c9c" stroke-width="3.2" stroke-linejoin="round" stroke-linecap="round" />
<path d="M326.3,884.2 L327.6,882.4" fill="none" stroke="#9c9c9c" stroke-width="1.8" stroke-linejoin="round" stroke-linecap="round" />
<path d="M326.3,922.8 L327.6,921" fill="none" stroke="#9c9c9c" stroke-width="1.8" stroke-linejoin="round" stroke-linecap="round" />
<ellipse cx="424.9" cy="895.6" rx="28.8" ry="18.2" fill="none" stroke="#000" stroke-width="3.6"/>
<ellipse cx="424.9" cy="894.6" rx="26.2" ry="16.0" fill="none" stroke="#000" stroke-width="0.9"/>
<polygon points="406.7,881.7 418.3,877.1 432.5,877.1 442.6,882.2 444.1,890.3 441.1,897.6 421.4,902.6 415.3,899.6 404.2,894.3 403.7,886.7" fill="#fff" stroke="#000" stroke-width="1.5" stroke-linejoin="round"/>
<path d="M404.4,889 L414.6,894.4 L420.4,897.4 L441.6,892.6 L444,888 M414.6,894.4 L415.3,899.6 M420.4,897.4 L421.4,902.6 M417.5,895.9 L417.6,901" fill="none" stroke="#000" stroke-width="1.2" stroke-linejoin="round" stroke-linecap="round" />
<ellipse cx="423.9" cy="886.9" rx="16.2" ry="9.0" fill="#fff" stroke="#000" stroke-width="1.6"/>
<path d="M409.6,889.4 Q411,884 423.9,883.6 Q437,884 438.6,889" fill="none" stroke="#000" stroke-width="1.2" stroke-linejoin="round" stroke-linecap="round" />
<path d="M497.6,904.1 Q501,897.5 505.2,894.2 Q509.5,891.2 513,892.6 Q515.5,895.5 518,895 L567.3,882.9 Q571.5,882.6 574.8,883.6 Q577.5,881.2 582,880.3 Q589,879.6 593.5,884.5 Q597,890 593.5,896 Q589,901.6 582.5,901.3 Q577,900.2 572.6,895.8 Q570,894 567.3,894.2 L518.8,907.1 Q515.5,909.6 513.5,912.4 Q511,916.4 506,918.3 Q501,918.8 497.6,915.5 Q503.5,913.5 507,909.5 Q509.5,905.5 507.6,902.3 Q504.5,900.5 497.6,904.1 Z" fill="none" stroke="#9c9c9c" stroke-width="1.9" stroke-linejoin="round" stroke-linecap="round" />
<polygon points="577.1,890.5 580.9,885.2 587.7,884.4 592.3,888.9 589.2,895 581.7,896.5" fill="none" stroke="#9c9c9c" stroke-width="1.8" stroke-linejoin="round"/>
<line x1="568.8" y1="885.2" x2="567.3" y2="893.5" stroke="#9c9c9c" stroke-width="1.0" stroke-linecap="butt"/>
<path d="M633.1,886.2 C633.30,884.67 633.62,883.08 634.5,881.3 C635.38,879.52 636.95,877.18 638.4,875.5 C639.85,873.82 641.67,872.03 643.2,871.2 C644.73,870.37 646.07,870.42 647.6,870.5 C649.13,870.58 650.72,870.87 652.4,871.7 C654.08,872.53 656.27,873.97 657.7,875.5 C659.13,877.03 660.35,879.12 661.0,880.9 C661.65,882.68 661.83,884.35 661.6,886.2 C661.37,888.05 660.65,890.23 659.6,892.0 C658.55,893.77 656.98,895.45 655.3,896.8 C653.62,898.15 651.20,899.45 649.5,900.1 C647.80,900.75 646.55,901.02 645.1,900.7 C643.65,900.38 642.40,899.27 640.8,898.2 C639.20,897.13 636.75,895.58 635.5,894.3 C634.25,893.02 633.70,891.85 633.3,890.5 C632.90,889.15 632.90,887.73 633.1,886.2 Z" fill="#fff" stroke="#000" stroke-width="2.0" stroke-linejoin="round" stroke-linecap="round" />
<path d="M643.2,872.6 L648.5,876.8 L646.8,881.3 Q643.9,885.1 642.2,888.4 L635.5,885.2" fill="none" stroke="#000" stroke-width="1.25" stroke-linejoin="round" stroke-linecap="round" />
<path d="M639.6,875.8 L646.8,879.9" fill="none" stroke="#000" stroke-width="1.25" stroke-linejoin="round" stroke-linecap="round" />
<path d="M634.5,887.4 L641.2,890.5 Q641.9,894.1 644.1,897.2 L645.1,900.7" fill="none" stroke="#000" stroke-width="1.25" stroke-linejoin="round" stroke-linecap="round" />
<path d="M642.2,888.4 L641.2,890.5" fill="none" stroke="#000" stroke-width="1.0" stroke-linejoin="round" stroke-linecap="round" />
<polyline points="660.36,876.66 661.01,877.83 661.46,879.22 661.68,880.78 661.68,882.49 661.45,884.31 661.0,886.19 660.35,888.09 659.49,889.96 658.47,891.76 657.29,893.45 655.99,895.0 654.6,896.35 653.15,897.49 651.67,898.39 650.2,899.02 648.77,899.36 647.41,899.43 646.16,899.2 645.05,898.69 644.1,897.9" fill="none" stroke="#000" stroke-width="0.9" stroke-linejoin="round"/>
<ellipse cx="651.4" cy="888.6" rx="5.4" ry="10.2" fill="#1c1c1c" stroke="#000" stroke-width="1.2" transform="rotate(30 651.4 888.6)"/>
<polyline points="647.99,897.06 647.06,897.06 646.27,896.73 645.67,896.11 645.27,895.2 645.08,894.05 645.12,892.69 645.39,891.18 645.87,889.57 646.54,887.93 647.39,886.3 648.38,884.75 649.47,883.35 650.62,882.13 651.79,881.14 652.95,880.43 654.04,880.01 655.02,879.9 655.86,880.11 656.54,880.63 657.01,881.44" fill="none" stroke="#000" stroke-width="2.0" stroke-linejoin="round"/>
<polyline points="657.04,882.45 657.62,883.65 657.76,885.31 657.45,887.28 656.72,889.41 655.62,891.51 654.25,893.41 652.73,894.94 651.18,895.99 649.73,896.46 648.51,896.31 647.61,895.55 647.12,894.25" fill="none" stroke="#000" stroke-width="0.75" stroke-linejoin="round"/>
<polyline points="657.12,884.24 657.55,885.19 657.64,886.51 657.38,888.08 656.77,889.79 655.89,891.48 654.79,893.01 653.58,894.26 652.36,895.11 651.22,895.5 650.26,895.4 649.57,894.8 649.2,893.78" fill="none" stroke="#000" stroke-width="0.75" stroke-linejoin="round"/>
<polyline points="657.19,886.03 657.49,886.72 657.53,887.71 657.3,888.89 656.83,890.17 656.16,891.45 655.34,892.61 654.44,893.57 653.53,894.23 652.7,894.55 652.02,894.49 651.53,894.06 651.28,893.3" fill="none" stroke="#000" stroke-width="0.75" stroke-linejoin="round"/>
</g>
<g id="axes">
<line x1="134.5" y1="319.2" x2="165" y2="336.2" stroke="#000" stroke-width="1.2" stroke-linecap="butt"/>
<line x1="236" y1="378" x2="242" y2="381.5" stroke="#000" stroke-width="1.2" stroke-linecap="butt"/>
<line x1="242" y1="381.5" x2="258" y2="391" stroke="#000" stroke-width="1.2" stroke-linecap="butt" stroke-dasharray="7 2.5 2 2.5"/>
<line x1="286.5" y1="407" x2="297" y2="413" stroke="#000" stroke-width="1.2" stroke-linecap="butt" stroke-dasharray="4 2.5 6 2.5"/>
<line x1="333" y1="433.5" x2="346.5" y2="441" stroke="#000" stroke-width="1.2" stroke-linecap="butt" stroke-dasharray="6 2.5 2 2.5"/>
<line x1="246" y1="384" x2="373" y2="311" stroke="#000" stroke-width="1.1" stroke-linecap="butt" stroke-dasharray="29 4 3 4 80 4 3 4"/>
<line x1="515.4" y1="434.5" x2="515.4" y2="488" stroke="#000" stroke-width="1.2" stroke-linecap="butt" stroke-dasharray="16 3 3 3"/>
<line x1="594.8" y1="441" x2="594.8" y2="462" stroke="#000" stroke-width="1.2" stroke-linecap="butt" stroke-dasharray="9 3 3 3"/>
<line x1="594.6" y1="487" x2="594.6" y2="512" stroke="#000" stroke-width="1.2" stroke-linecap="butt" stroke-dasharray="9 3 3 3"/>
<line x1="594.6" y1="515" x2="594.6" y2="527" stroke="#000" stroke-width="1.1" stroke-linecap="butt"/>
<line x1="353" y1="487.5" x2="372" y2="476.5" stroke="#000" stroke-width="1.0" stroke-linecap="butt"/>
<line x1="336" y1="497.5" x2="345" y2="492.3" stroke="#000" stroke-width="1.0" stroke-linecap="butt"/>
</g>
</svg>
</body></html>
